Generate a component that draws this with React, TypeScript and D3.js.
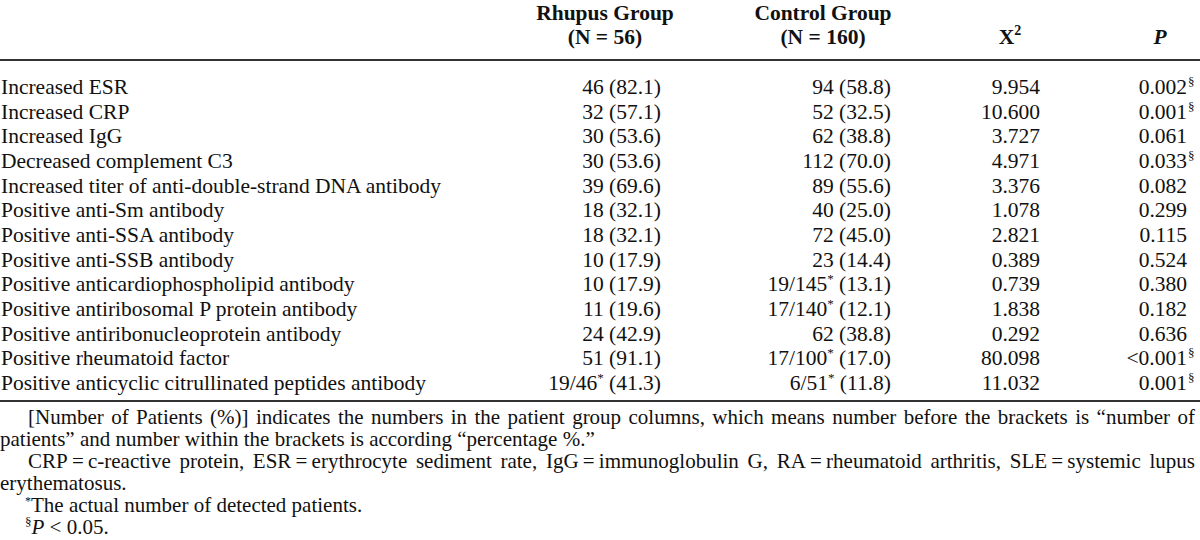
import React, { useEffect, useRef } from "react";
import * as d3 from "d3";

const W = 1200;
const H = 540;

const labels = [
  "Increased ESR",
  "Increased CRP",
  "Increased IgG",
  "Decreased complement C3",
  "Increased titer of anti-double-strand DNA antibody",
  "Positive anti-Sm antibody",
  "Positive anti-SSA antibody",
  "Positive anti-SSB antibody",
  "Positive anticardiophospholipid antibody",
  "Positive antiribosomal P protein antibody",
  "Positive antiribonucleoprotein antibody",
  "Positive rheumatoid factor",
  "Positive anticyclic citrullinated peptides antibody",
];
const rhupusCounts = [46, 32, 30, 30, 39, 18, 18, 10, 10, 11, 24, 51, 19];
const rhupusTotals: (number | null)[] = [null, null, null, null, null, null, null, null, null, null, null, null, 46];
const rhupusPct = [82.1, 57.1, 53.6, 53.6, 69.6, 32.1, 32.1, 17.9, 17.9, 19.6, 42.9, 91.1, 41.3];
const controlCounts = [94, 52, 62, 112, 89, 40, 72, 23, 19, 17, 62, 17, 6];
const controlTotals: (number | null)[] = [null, null, null, null, null, null, null, null, 145, 140, null, 100, 51];
const controlPct = [58.8, 32.5, 38.8, 70.0, 55.6, 25.0, 45.0, 14.4, 13.1, 12.1, 38.8, 17.0, 11.8];
const chiSquare = [9.954, 10.6, 3.727, 4.971, 3.376, 1.078, 2.821, 0.389, 0.739, 1.838, 0.292, 80.098, 11.032];
const pValues = ["0.002", "0.001", "0.061", "0.033", "0.082", "0.299", "0.115", "0.524", "0.380", "0.182", "0.636", "<0.001", "0.001"];
const significant = [true, true, false, true, false, false, false, false, false, false, false, true, true];

const headerGroups = ["Rhupus Group", "Control Group"];
const headerNs = ["(N = 56)", "(N = 160)"];

const footLine1 = "[Number of Patients (%)] indicates the numbers in the patient group columns, which means number before the brackets is \u201cnumber of";
const footLine2 = "patients\u201d and number within the brackets is according \u201cpercentage %.\u201d";
const footLine3Words = [
  "CRP\u2009=\u2009c-reactive", "protein,", "ESR\u2009=\u2009erythrocyte", "sediment", "rate,",
  "IgG\u2009=\u2009immunoglobulin", "G,", "RA\u2009=\u2009rheumatoid", "arthritis,",
  "SLE\u2009=\u2009systemic", "lupus",
];
const footLine4 = "erythematosus.";
const footLine5 = "The actual number of detected patients.";

const FONT = "'Liberation Serif', 'Times New Roman', Times, serif";
const FS = 21.5;

export default function App() {
  const ref = useRef<SVGSVGElement | null>(null);

  useEffect(() => {
    const svg = d3.select(ref.current);
    svg.selectAll("*").remove();
    const g = svg.append("g")
      .attr("font-family", FONT)
      .attr("font-size", FS)
      .attr("fill", "#111")
      .style("white-space", "pre");

    const colRight = { rhupus: 661, control: 891, chi: 1040, p: 1187 };
    const headCenter = [605, 823];

    const y = d3.scaleLinear().domain([0, labels.length - 1]).range([94, 390]);
    const fmt3 = d3.format(".3f");

    // header
    headerGroups.forEach((h, i) => {
      g.append("text").attr("x", headCenter[i]).attr("y", 20).attr("text-anchor", "middle")
        .attr("font-weight", "bold").text(h);
      g.append("text").attr("x", headCenter[i]).attr("y", 44).attr("text-anchor", "middle")
        .attr("font-weight", "bold").text(headerNs[i]);
    });
    const xh = g.append("text").attr("x", 1010).attr("y", 44).attr("text-anchor", "middle").attr("font-weight", "bold");
    xh.append("tspan").text("X");
    xh.append("tspan").attr("dy", -9).attr("font-size", 14).text("2");
    g.append("text").attr("x", 1160).attr("y", 44).attr("text-anchor", "middle")
      .attr("font-weight", "bold").attr("font-style", "italic").text("P");

    // rules
    g.append("line").attr("x1", 0).attr("x2", W).attr("y1", 60).attr("y2", 60)
      .attr("stroke", "#333").attr("stroke-width", 2);
    g.append("line").attr("x1", 0).attr("x2", W).attr("y1", 401).attr("y2", 401)
      .attr("stroke", "#333").attr("stroke-width", 2);

    const cell = (x: number, yy: number, count: number, total: number | null, pct: number) => {
      const t = g.append("text").attr("x", x).attr("y", yy).attr("text-anchor", "end");
      if (total != null) {
        t.append("tspan").text(`${count}/${total}`);
        t.append("tspan").attr("dy", -8).attr("font-size", 13).text("*");
        t.append("tspan").attr("dy", 8).text(` (${pct.toFixed(1)})`);
      } else {
        t.text(`${count} (${pct.toFixed(1)})`);
      }
    };

    labels.forEach((lab, i) => {
      const yy = y(i);
      g.append("text").attr("x", 1).attr("y", yy).text(lab);
      cell(colRight.rhupus, yy, rhupusCounts[i], rhupusTotals[i], rhupusPct[i]);
      cell(colRight.control, yy, controlCounts[i], controlTotals[i], controlPct[i]);
      g.append("text").attr("x", colRight.chi).attr("y", yy).attr("text-anchor", "end").text(fmt3(chiSquare[i]));
      g.append("text").attr("x", colRight.p).attr("y", yy).attr("text-anchor", "end").text(pValues[i]);
      if (significant[i]) {
        g.append("text").attr("x", colRight.p + 1).attr("y", yy - 8).attr("font-size", 13).text("\u00a7");
      }
    });

    // footnotes
    const fy = d3.scaleLinear().domain([0, 5]).range([424, 534]);
    const FFS = 21;
    const justify = (words: string[], x0: number, x1: number, yy: number) => {
      const nodes = words.map((w) => g.append("text").attr("y", yy).attr("font-size", FFS).text(w));
      const widths = nodes.map((n) => (n.node() as SVGTextElement).getComputedTextLength());
      const gap = (x1 - x0 - d3.sum(widths)) / (words.length - 1);
      let x = x0;
      nodes.forEach((n, i) => {
        n.attr("x", x);
        x += widths[i] + gap;
      });
    };
    justify(footLine1.split(" "), 28, 1195, fy(0));
    g.append("text").attr("x", 0).attr("y", fy(1)).attr("font-size", FFS).text(footLine2);
    justify(footLine3Words, 28, 1195, fy(2));
    g.append("text").attr("x", 0).attr("y", fy(3)).attr("font-size", FFS).text(footLine4);
    const f5 = g.append("text").attr("x", 25).attr("y", fy(4)).attr("font-size", FFS);
    f5.append("tspan").attr("dy", -7).attr("font-size", 12).text("*");
    f5.append("tspan").attr("dy", 7).text(footLine5);
    const f6 = g.append("text").attr("x", 25).attr("y", fy(5)).attr("font-size", FFS);
    f6.append("tspan").attr("dy", -8).attr("font-size", 13).text("\u00a7");
    f6.append("tspan").attr("dy", 8).attr("font-style", "italic").text("P");
    f6.append("tspan").text(" < 0.05.");
  }, []);

  return (
    <svg
      ref={ref}
      width={W}
      height={H}
      style={{ position: "absolute", left: 0, top: 0, background: "#fff" }}
    />
  );
}
